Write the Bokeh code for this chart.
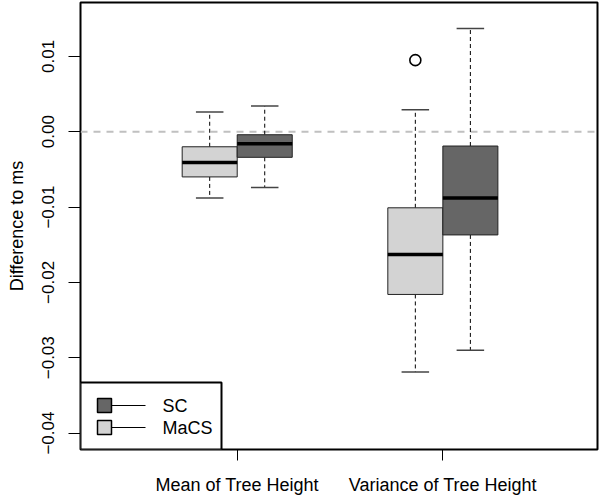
import numpy as np
from bokeh.plotting import figure
from bokeh.models import (Range1d, FixedTicker, CustomJSTickFormatter, Span,
                          BoxAnnotation, Arrow, Label)
from bokeh.embed import file_html
from bokeh.resources import INLINE

# ---------------- data ----------------
categories = ["Mean of Tree Height", "Variance of Tree Height"]
series = ["SC", "MaCS"]

macs_lower = [-0.0088, -0.0319]
macs_q1 = [-0.0060, -0.0216]
macs_median = [-0.0041, -0.0163]
macs_q3 = [-0.0020, -0.0101]
macs_upper = [0.0026, 0.0029]

sc_lower = [-0.0074, -0.0290]
sc_q1 = [-0.0034, -0.0137]
sc_median = [-0.0016, -0.0088]
sc_q3 = [-0.0004, -0.0019]
sc_upper = [0.0034, 0.0137]

macs_outlier_cat = ["Variance of Tree Height"]
macs_outlier_val = [0.0095]

y_ticks = [-0.04, -0.03, -0.02, -0.01, 0.00, 0.01]

# ---------------- style ----------------
FONT = "Liberation Sans"
MACS_COLOR = "#d3d3d3"
SC_COLOR = "#666666"

pos = np.arange(1, len(categories) + 1)
hw = 0.1338          # half box width
cap = hw / 2.0       # half staple width

p = figure(width=600, height=497, output_backend="svg", toolbar_location=None,
           x_range=Range1d(0.238, 2.752), y_range=Range1d(-0.04218, 0.01715),
           min_border_left=80, min_border_right=3, min_border_top=2,
           min_border_bottom=45)
p.grid.visible = False
p.outline_line_color = "black"
p.outline_line_width = 2
p.background_fill_color = "white"
p.border_fill_color = "white"

# zero reference line
p.add_layout(Span(location=0, dimension="width", line_color="#c0c0c0",
                  line_width=2, line_dash="7 6", level="underlay"))


def draw_boxes(centers, lower, q1, med, q3, upper, color):
    centers = np.asarray(centers)
    # whiskers
    p.segment(x0=centers, y0=q3, x1=centers, y1=upper, line_color="black",
              line_width=1, line_dash="4 3")
    p.segment(x0=centers, y0=q1, x1=centers, y1=lower, line_color="black",
              line_width=1, line_dash="4 3")
    # staples
    p.segment(x0=centers - cap, y0=upper, x1=centers + cap, y1=upper,
              line_color="#444444", line_width=1.5)
    p.segment(x0=centers - cap, y0=lower, x1=centers + cap, y1=lower,
              line_color="#444444", line_width=1.5)
    # boxes
    p.quad(left=centers - hw, right=centers + hw, bottom=q1, top=q3,
           fill_color=color, line_color="#222222", line_width=1)
    # medians
    p.segment(x0=centers - hw, y0=med, x1=centers + hw, y1=med,
              line_color="black", line_width=3.5)


draw_boxes(pos - hw, macs_lower, macs_q1, macs_median, macs_q3, macs_upper, MACS_COLOR)
draw_boxes(pos + hw, sc_lower, sc_q1, sc_median, sc_q3, sc_upper, SC_COLOR)

out_x = [pos[categories.index(c)] - hw for c in macs_outlier_cat]
p.scatter(x=out_x, y=macs_outlier_val, marker="circle", size=11,
          fill_color=None, line_color="black", line_width=1.6)

# ---------------- axes ----------------
xa = p.xaxis[0]
xa.ticker = FixedTicker(ticks=list(pos))
xa.major_label_overrides = {int(i): c for i, c in zip(pos, categories)}
xa.major_tick_out = 11
xa.major_tick_in = 0
xa.minor_tick_line_color = None
xa.axis_line_color = None
xa.major_tick_line_color = "black"
xa.major_label_standoff = 14
xa.major_label_text_font = FONT
xa.major_label_text_font_size = "18px"
xa.major_label_text_color = "black"

ya = p.yaxis[0]
ya.ticker = FixedTicker(ticks=y_ticks)
ya.formatter = CustomJSTickFormatter(
    code="return tick.toFixed(2).replace('-', '\u2212');")
ya.major_label_orientation = "vertical"
ya.major_tick_out = 12
ya.major_tick_in = 0
ya.minor_tick_line_color = None
ya.axis_line_color = None
ya.major_tick_line_color = "black"
ya.major_label_standoff = 14
ya.major_label_text_font = FONT
ya.major_label_text_font_size = "17px"
ya.major_label_text_color = "black"
ya.axis_label = "Difference to ms"
ya.axis_label_standoff = 13
ya.axis_label_text_font = FONT
ya.axis_label_text_font_size = "18px"
ya.axis_label_text_font_style = "normal"
ya.axis_label_text_color = "black"

# ---------------- legend (R style, bottom-left) ----------------
p.add_layout(BoxAnnotation(left=0, right=141, bottom=0, top=67,
                           left_units="screen", right_units="screen",
                           bottom_units="screen", top_units="screen",
                           fill_color="white", fill_alpha=1.0,
                           line_color="black", line_width=2, line_alpha=1.0))
legend_colors = [SC_COLOR, MACS_COLOR]
legend_y = [44, 22]
for name, col, yy in zip(series, legend_colors, legend_y):
    p.add_layout(Arrow(end=None, x_start=31, y_start=yy, x_end=65, y_end=yy,
                       start_units="screen", end_units="screen",
                       line_color="black", line_width=1))
    p.add_layout(BoxAnnotation(left=17, right=31, bottom=yy - 7, top=yy + 7,
                               left_units="screen", right_units="screen",
                               bottom_units="screen", top_units="screen",
                               fill_color=col, fill_alpha=1.0,
                               line_color="black", line_width=1.5, line_alpha=1.0))
    p.add_layout(Label(x=82, y=yy, x_units="screen", y_units="screen", text=name,
                       text_baseline="middle", text_font=FONT,
                       text_font_size="18px", text_color="black"))

open("out.html", "w").write(file_html(p, INLINE))
